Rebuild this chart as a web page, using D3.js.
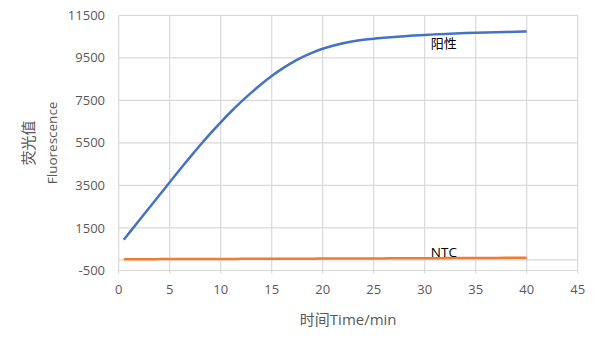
<!DOCTYPE html>
<html>
<head>
<meta charset="utf-8">
<script src="https://cdn.jsdelivr.net/npm/d3@7"></script>
<style>
body { margin: 0; background: #fff; }
text { font-family: "Open Sans", "Noto Sans CJK SC", sans-serif; }
</style>
</head>
<body>
<div id="chart"></div>
<script>
// time points (min)
var time = [0.5, 1, 2, 3, 4, 5, 6, 7, 8, 9, 10, 11, 12, 13, 14, 15, 16, 17, 18, 19, 20,
            21, 22, 23, 24, 25, 26, 27, 28, 29, 30, 31, 32, 33, 34, 35, 36, 37, 38, 39, 40];
// 阳性 fluorescence
var positive = [950, 1250, 1850, 2450, 3050, 3650, 4245, 4830, 5400, 5950, 6470, 6965, 7430, 7865, 8270, 8645, 8980, 9275, 9530, 9745, 9925,
                10070, 10185, 10275, 10345, 10400, 10445, 10485, 10520, 10550, 10578, 10603, 10625, 10645, 10663, 10679, 10693, 10706, 10718, 10729, 10739];
// NTC fluorescence
var ntc = [30, 30, 32, 33, 35, 36, 38, 39, 41, 42, 44, 45, 47, 48, 50, 51, 53, 54, 56, 57, 59,
           60, 62, 64, 66, 68, 70, 72, 74, 76, 78, 80, 82, 84, 86, 88, 90, 92, 94, 96, 98];
var xTicks = [0, 5, 10, 15, 20, 25, 30, 35, 40, 45];
var yTicks = [-500, 1500, 3500, 5500, 7500, 9500, 11500];

var width = 601, height = 341;
var plotLeft = 118.7, plotRight = 577.7, plotTop = 15.3, plotBottom = 270.5;

var svg = d3.select("#chart").append("svg")
            .attr("width", width)
            .attr("height", height);

var x = d3.scaleLinear().domain([0, 45]).range([plotLeft, plotRight]);
var y = d3.scaleLinear().domain([-500, 11500]).range([plotBottom, plotTop]);

// gridlines
svg.append("g").selectAll("line")
   .data(xTicks)
   .enter()
   .append("line")
   .attr("x1", function(d){ return x(d); })
   .attr("x2", function(d){ return x(d); })
   .attr("y1", plotTop)
   .attr("y2", plotBottom + 3)
   .style("stroke", "#d9d9d9")
   .style("stroke-width", 1.2);

svg.append("g").selectAll("line")
   .data(yTicks)
   .enter()
   .append("line")
   .attr("x1", plotLeft)
   .attr("x2", plotRight)
   .attr("y1", function(d){ return y(d); })
   .attr("y2", function(d){ return y(d); })
   .style("stroke", "#d9d9d9")
   .style("stroke-width", 1.2);

// horizontal axis line at 0
svg.append("line")
   .attr("x1", plotLeft)
   .attr("x2", plotRight)
   .attr("y1", y(0))
   .attr("y2", y(0))
   .style("stroke", "#d9d9d9")
   .style("stroke-width", 1.2);

// tick labels
svg.append("g").selectAll("text")
   .data(yTicks)
   .enter()
   .append("text")
   .attr("x", 105)
   .attr("y", function(d){ return y(d); })
   .attr("dy", "0.35em")
   .style("text-anchor", "end")
   .style("font-size", "13px")
   .style("fill", "#595959")
   .text(function(d){ return d; });

svg.append("g").selectAll("text")
   .data(xTicks)
   .enter()
   .append("text")
   .attr("x", function(d){ return x(d); })
   .attr("y", 289.5)
   .attr("dy", "0.35em")
   .style("text-anchor", "middle")
   .style("font-size", "13px")
   .style("fill", "#595959")
   .text(function(d){ return d; });

// axis titles
svg.append("text")
   .attr("transform", "translate(" + (plotLeft + plotRight) / 2 + ",319.5)")
   .attr("dy", "0.35em")
   .style("text-anchor", "middle")
   .style("font-size", "15px")
   .style("fill", "#595959")
   .text("时间Time/min");

svg.append("text")
   .attr("transform", "translate(28.5," + (plotTop + plotBottom) / 2 + ") rotate(-90)")
   .attr("dy", "0.35em")
   .style("text-anchor", "middle")
   .style("font-size", "15px")
   .style("fill", "#595959")
   .text("荧光值");

svg.append("text")
   .attr("transform", "translate(52.5," + (plotTop + plotBottom) / 2 + ") rotate(-90)")
   .attr("dy", "0.35em")
   .style("text-anchor", "middle")
   .style("font-size", "13.5px")
   .style("fill", "#595959")
   .text("Fluorescence");

// series
var line = d3.line().curve(d3.curveMonotoneX);

svg.append("path")
   .datum(time.map(function(t, i){ return [x(t), y(ntc[i])]; }))
   .attr("d", line)
   .style("fill", "none")
   .style("stroke", "#ed7d31")
   .style("stroke-width", 2.5);

svg.append("path")
   .datum(time.map(function(t, i){ return [x(t), y(positive[i])]; }))
   .attr("d", line)
   .style("fill", "none")
   .style("stroke", "#4472c4")
   .style("stroke-width", 2.5);

// data labels
svg.append("text")
   .attr("x", x(30.6))
   .attr("y", 43)
   .attr("dy", "0.35em")
   .style("font-size", "13px")
   .style("fill", "#000")
   .text("阳性");

svg.append("text")
   .attr("x", x(30.6))
   .attr("y", 252)
   .attr("dy", "0.35em")
   .style("font-size", "13.5px")
   .style("fill", "#000")
   .text("NTC");
</script>
</body>
</html>
